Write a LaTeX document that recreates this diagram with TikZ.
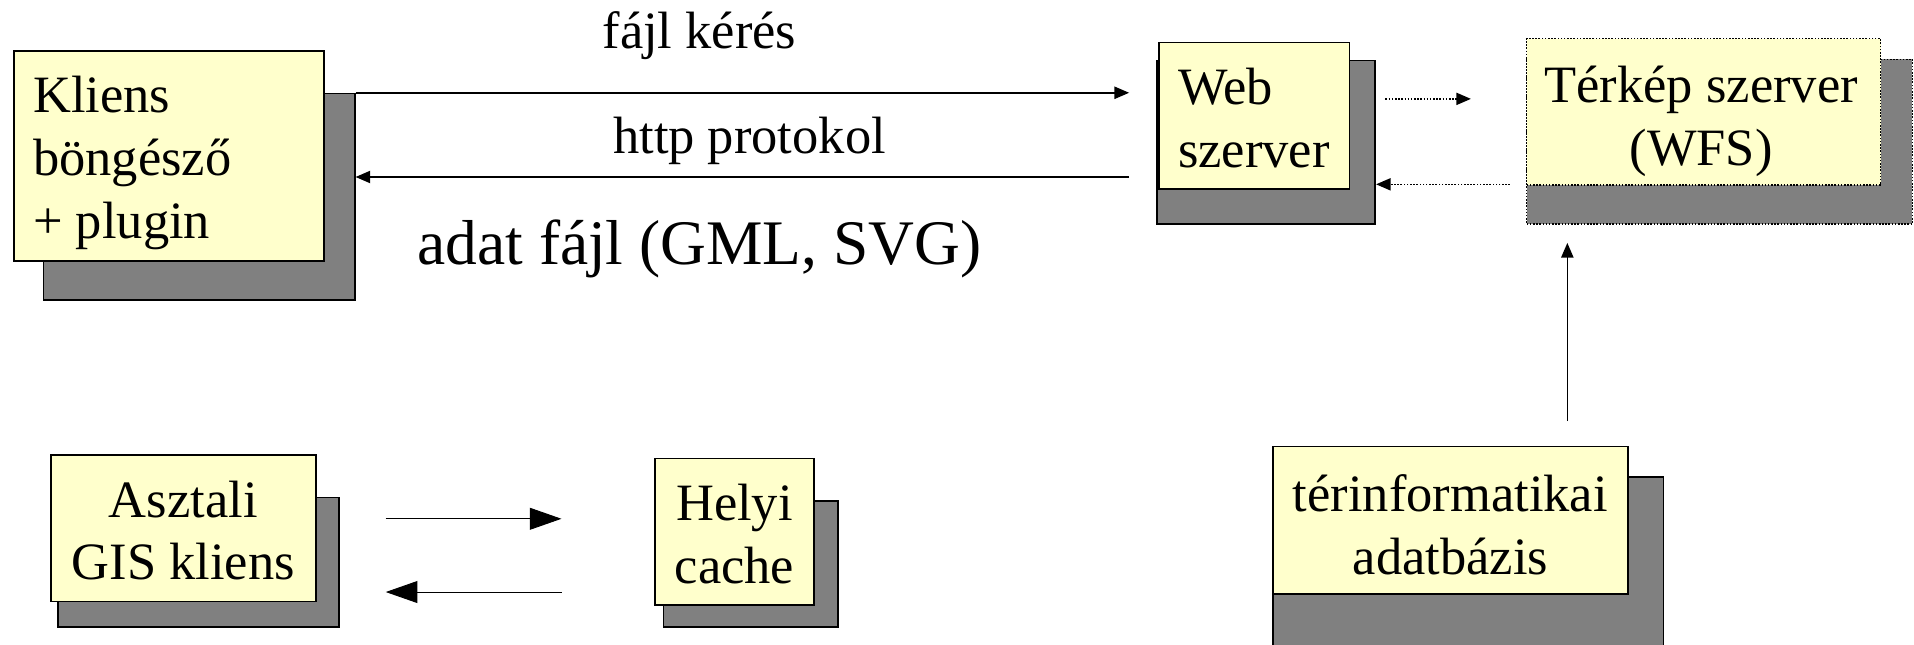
\documentclass[tikz,border=0pt]{standalone}
\usepackage{fontspec}
\setmainfont{Liberation Serif}
\usetikzlibrary{arrows.meta}
\definecolor{boxyellow}{HTML}{FFFFCC}
\definecolor{shadowgray}{HTML}{808080}
\begin{document}
\begin{tikzpicture}[x=1pt,y=-1pt,
  shadowbox/.style={draw=black, fill=shadowgray, line width=1.3pt, inner sep=0pt, anchor=north west},
  ybox/.style={draw=black, fill=boxyellow, line width=1.3pt, anchor=north west, inner sep=0pt},
  btext/.style={inner sep=0pt, align=center, font=\fontsize{43}{51.5}\selectfont},
  dotborder/.style={dash pattern=on 1.3pt off 1.3pt},
  conn/.style={line width=1.3pt, -{Triangle[length=12pt,width=10pt]}},
  bigconn/.style={line width=0.8pt, -{Triangle[length=26pt,width=18pt]}},
  dotconn/.style={line width=1.3pt, dash pattern=on 1.3pt off 1.3pt, -{Triangle[length=12pt,width=10pt]}},
  lbl/.style={font=\fontsize{43}{51.5}\selectfont, inner sep=0pt},
  biglbl/.style={font=\fontsize{52}{60}\selectfont, inner sep=0pt}
]
\useasboundingbox (0,0) rectangle (1568,528);

% Kliens
\node[shadowbox, minimum width=255pt, minimum height=169pt] (ksh) at (35,76) {};
\node[ybox, minimum width=254pt, minimum height=172pt] (k) at (11,41) {};
\node[btext, align=left, anchor=west] (kt) at ([xshift=16pt,yshift=-6pt]k.west) {Kliens\\böngésző\\+ plugin};

% Web szerver
\node[shadowbox, minimum width=179pt, minimum height=134pt] (wsh) at (947,49) {};
\node[ybox, minimum width=156pt, minimum height=120pt] (w) at (949,34) {};
\node[btext, align=left, anchor=west] (wt) at ([xshift=16pt,yshift=-2pt]w.west) {Web\\szerver};

% Terkep szerver
\node[shadowbox, dotborder, minimum width=316pt, minimum height=135pt] (tsh) at (1250,48) {};
\node[ybox, dotborder, minimum width=290pt, minimum height=120pt] (t) at (1250,31) {};
\node[btext] (tt) at ([xshift=-2pt,yshift=-8pt]t.center) {Térkép szerver\\(WFS)};

% adatbazis
\node[shadowbox, minimum width=320pt, minimum height=140pt] (dsh) at (1042,390) {};
\node[ybox, minimum width=291pt, minimum height=121pt] (d) at (1042,365) {};
\node[btext] (dt) at ([yshift=-4pt]d.center) {térinformatikai\\adatbázis};

% Asztali GIS kliens
\node[shadowbox, minimum width=230pt, minimum height=106pt] (ash) at (47,407) {};
\node[ybox, minimum width=217pt, minimum height=120pt] (a) at (41,372) {};
\node[btext] (at) at ([yshift=-2pt]a.center) {Asztali\\GIS kliens};

% Helyi cache
\node[shadowbox, minimum width=143pt, minimum height=103pt] (hsh) at (543,410) {};
\node[ybox, minimum width=130pt, minimum height=120pt] (h) at (536,375) {};
\node[btext] (ht) at ([yshift=-2pt]h.center) {Helyi\\cache};

% labels
\node[lbl] (l1) at (573,29) {fájl kérés};
\node[lbl] (l2) at (614,115) {http protokol};
\node[biglbl] (l3) at (573,204) {adat fájl (GML, SVG)};

% connector end points
\coordinate (c1) at (925,76);
\coordinate (c2) at (925,145);
\coordinate (c3a) at (1135,81);
\coordinate (c3b) at (1205,81);
\coordinate (c4) at (1237,151);
\coordinate (c5) at (1284,345);
\coordinate (c6) at (1284,199);
\coordinate (c7a) at (316,425);
\coordinate (c7b) at (460,425);
\coordinate (c8a) at (460,485);
\coordinate (c8b) at (316,485);

\draw[conn] (ksh.north east) -- (c1);
\draw[conn] (c2) -- (ksh.east |- c2);
\draw[dotconn] (c3a) -- (c3b);
\draw[dotconn] (c4) -- (wsh.east |- c4);
\draw[conn] (c5) -- (c6);
\draw[bigconn] (c7a) -- (c7b);
\draw[bigconn] (c8a) -- (c8b);
\end{tikzpicture}
\end{document}
